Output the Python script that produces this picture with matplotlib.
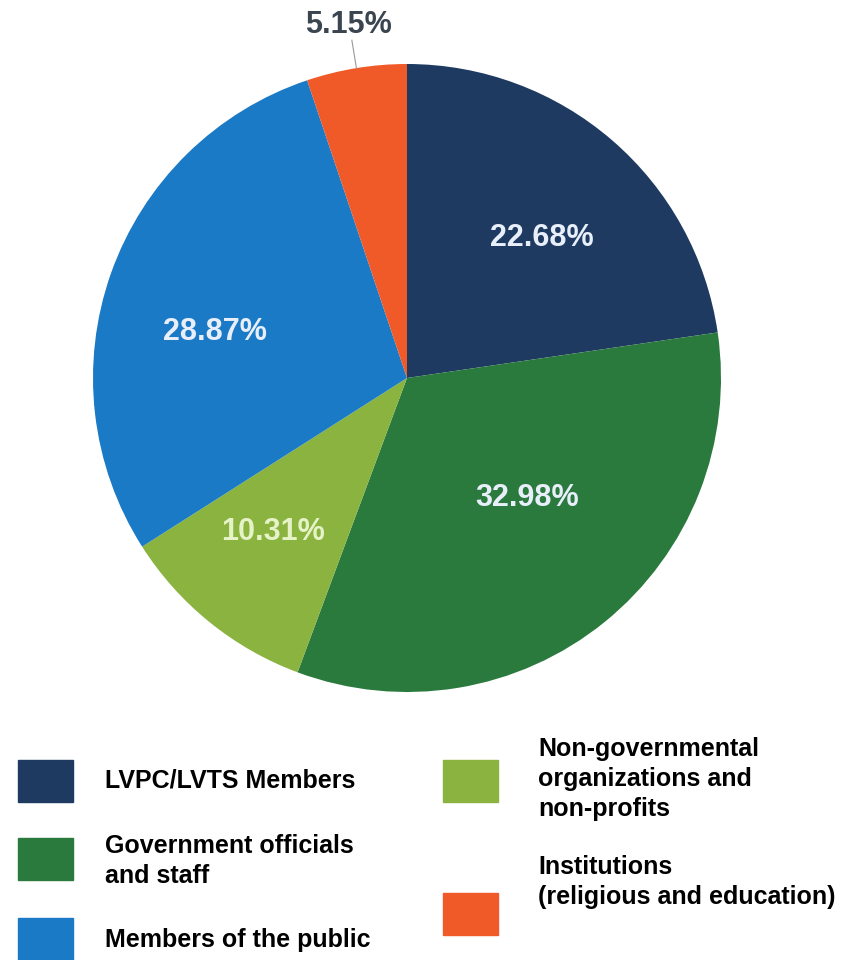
import matplotlib.pyplot as plt
from matplotlib.patches import Rectangle
import numpy as np

# Data
labels = ['LVPC/LVTS Members', 'Government officials\nand staff', 'Non-governmental\norganizations and\nnon-profits',
          'Members of the public', 'Institutions\n(religious and education)']
values = [22.68, 32.98, 10.31, 28.87, 5.15]
colors = ['#1e3a60', '#2a7a3e', '#8ab33f', '#1a7ac6', '#f05a28']

fam = ['Liberation Sans', 'DejaVu Sans']

fig = plt.figure(figsize=(8.53, 9.6), dpi=100)
ax = fig.add_axes([0, 0, 1, 1])

# pie in pixel coords (y measured from bottom)
cx, cy, r = 407, 960 - 378, 314
wedges, _ = ax.pie(values, colors=colors, startangle=90, counterclock=False,
                   center=(cx, cy), radius=r, frame=True)
ax.set_xlim(0, 853)
ax.set_ylim(0, 960)
ax.set_aspect('equal')
ax.axis('off')

# percentage labels (distance as fraction of radius, angle nudge in degrees)
label_dist = [0.62, 0.54, 0.65, 0.63]
label_nudge = [-3, 6, -2, 6]
for w, v, d, n in zip(wedges[:4], values[:4], label_dist, label_nudge):
    ang = np.deg2rad((w.theta1 + w.theta2) / 2 + n)
    tc = '#e6f2c8' if v == 10.31 else '#e8eefa'
    ax.text(cx + d * r * np.cos(ang), cy + d * r * np.sin(ang), f'{v:.2f}%',
            ha='center', va='center', fontsize=22, fontweight='bold',
            color=tc, family=fam)

# small slice label outside with leader line
w = wedges[4]
ang = np.deg2rad((w.theta1 + w.theta2) / 2)
ax.plot([cx + r * np.cos(ang), cx + 1.09 * r * np.cos(ang)],
        [cy + r * np.sin(ang), cy + 1.09 * r * np.sin(ang)], color='#999999', lw=0.8)
ax.text(cx + 1.15 * r * np.cos(ang), cy + 1.14 * r * np.sin(ang), f'{values[4]:.2f}%',
        ha='center', va='center', fontsize=22, fontweight='bold',
        color='#3a4550', family=fam)

# legend drawn by hand
order = [0, 1, 3, 2, 4]
box_pos = [(18, 158), (18, 80), (18, 0), (443, 158), (443, 25)]
text_pos = [(105, 179), (105, 99), (105, 20), (538, 181), (538, 78)]
for i, (bx, by), (tx, ty) in zip(order, box_pos, text_pos):
    ax.add_patch(Rectangle((bx, by), 55, 42, color=colors[i], clip_on=False))
    ax.text(tx, ty, labels[i], ha='left', va='center', fontsize=18, fontweight='bold',
            linespacing=1.3, color='black', family=fam)

fig.savefig('out.png', dpi=100)
